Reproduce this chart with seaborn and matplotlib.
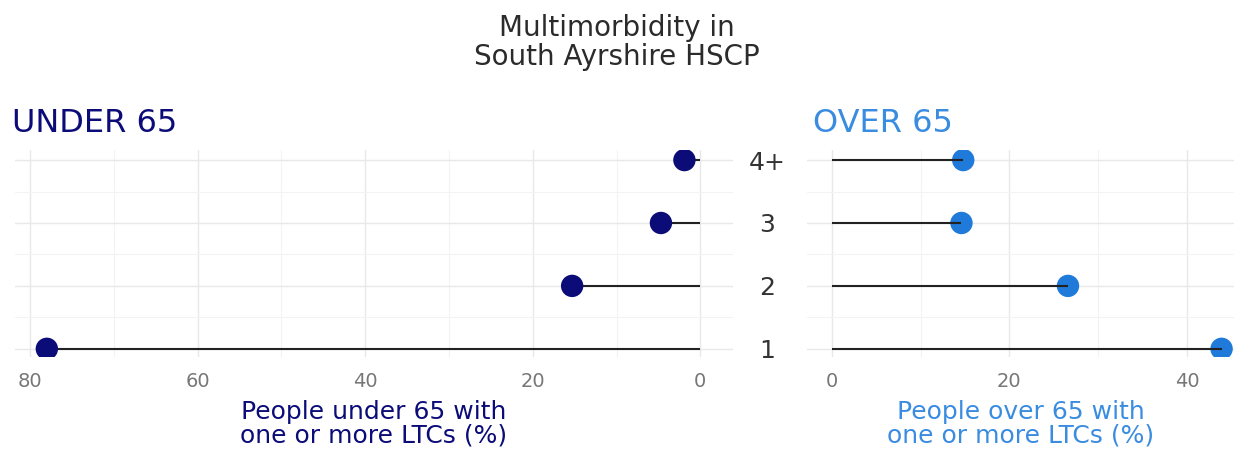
import numpy as np
import pandas as pd
import matplotlib
matplotlib.use("Agg")
import matplotlib.pyplot as plt
import seaborn as sns

# data
ltc_groups = ["1", "2", "3", "4+"]
under65_pct = [78.0, 15.3, 4.7, 1.9]
over65_pct = [43.9, 26.6, 14.6, 14.8]

navy = "#0c0c78"
blue = "#1f7ad9"
blue_text = "#3a8ce0"

sns.set_theme(style="white")
plt.rcParams["font.family"] = ["DejaVu Sans"]

df = pd.DataFrame({
    "group": ltc_groups,
    "pos": np.arange(len(ltc_groups)),
    "under": under65_pct,
    "over": over65_pct,
})

fig = plt.figure(figsize=(12.34, 4.49), dpi=100)
W, H = 1234, 449
ax_l = fig.add_axes([15 / W, (H - 357) / H, 718 / W, 207 / H])
ax_r = fig.add_axes([807 / W, (H - 357) / H, 427 / W, 207 / H])


def style_panel(ax, major, minor, xlim):
    ax.set_xlim(*xlim)
    ax.set_ylim(-0.13, 3.16)
    ax.set_xticks(major)
    ax.set_xticks(minor, minor=True)
    ax.set_yticks(df["pos"])
    ax.set_yticks([0.5, 1.5, 2.5], minor=True)
    ax.grid(True, which="major", color="#e8e8e8", lw=1.0)
    ax.grid(True, which="minor", color="#f3f3f3", lw=0.8)
    ax.set_axisbelow(True)
    for s in ax.spines.values():
        s.set_visible(False)
    ax.tick_params(axis="x", which="both", length=0, pad=11, labelsize=14, labelcolor="#777777")
    ax.tick_params(axis="y", which="both", length=0)


# left panel: under 65 (reversed axis)
style_panel(ax_l, [80, 60, 40, 20, 0], [70, 50, 30, 10], (81.8, -3.9))
ax_l.hlines(df["pos"], 0, df["under"], color="#222222", lw=1.5, zorder=2)
sns.scatterplot(data=df, x="under", y="pos", ax=ax_l, color=navy, s=260,
                edgecolor="none", zorder=3, legend=False)
ax_l.set_yticklabels([])
ax_l.set_ylabel("")
ax_l.set_xlabel("People under 65 with\none or more LTCs (%)", fontsize=18,
                color=navy, linespacing=1.0, labelpad=6)

# right panel: over 65
style_panel(ax_r, [0, 20, 40], [10, 30], (-2.8, 45.3))
sns.scatterplot(data=df, x="over", y="pos", ax=ax_r, color=blue, s=260,
                edgecolor="none", zorder=2, legend=False)
ax_r.hlines(df["pos"], 0, df["over"], color="#222222", lw=1.5, zorder=3)
ax_r.set_ylabel("")
ax_r.set_yticklabels(df["group"], fontsize=18, color="#333333")
ax_r.tick_params(axis="y", pad=28.8)
for lab in ax_r.get_yticklabels():
    lab.set_ha("center")
ax_r.set_xlabel("People over 65 with\none or more LTCs (%)", fontsize=18,
                color=blue_text, linespacing=1.0, labelpad=6)

# titles
fig.text(12 / W, 1 - 132 / H, "UNDER 65", fontsize=23, color=navy, va="baseline", ha="left")
fig.text(813 / W, 1 - 132 / H, "OVER 65", fontsize=23, color=blue_text, va="baseline", ha="left")
fig.text(617 / W, 1 - 14 / H, "Multimorbidity in\nSouth Ayrshire HSCP", fontsize=20,
         color="#2b2b2b", ha="center", va="top", linespacing=1.05)

fig.savefig("out.png", dpi=100, facecolor="white")
